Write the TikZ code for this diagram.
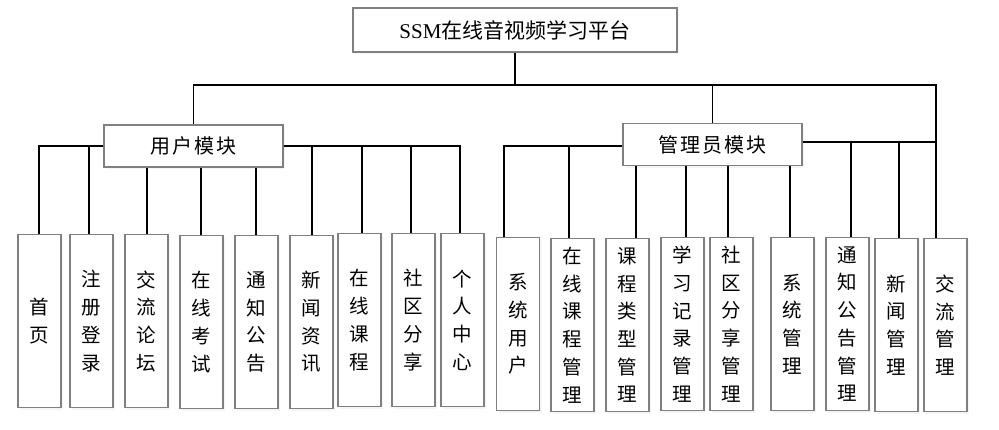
\documentclass[tikz,border=0pt]{standalone}
\usepackage{fontspec}
\setmainfont{Liberation Serif}
\newfontfamily\cjk{Noto Sans CJK SC}
\newfontfamily\cjkwide[LetterSpace=10]{Noto Sans CJK SC}
\usetikzlibrary{shadows}
\tikzset{
  box/.style = {draw=black!50, line width=1.1pt, fill=white, inner sep=0pt,
    drop shadow={shadow xshift=2pt, shadow yshift=-2pt, fill=black!8}},
  root/.style = {box, minimum width=324pt, minimum height=44pt,
    font=\fontsize{21pt}{25pt}\selectfont},
  mod/.style = {box, minimum width=179pt, minimum height=42pt,
    font=\cjkwide\fontsize{20pt}{24pt}\selectfont},
  leaf/.style = {box, anchor=north, minimum width=43pt, minimum height=173pt,
    align=center, font=\cjk\fontsize{19.5pt}{27.7pt}\selectfont},
  link/.style = {draw=black, line width=1.1pt}
}
\begin{document}
\begin{tikzpicture}[x=1pt, y=-1pt]
\useasboundingbox (0,0) rectangle (999,429);
% root and modules
\node [root] (top) at (515,30) {SSM{\cjk 在线音视频学习平台}};
\node [mod] (user) at (193.5,146) {用户模块};
\node [mod] (admin) at (712.5,144.5) {管理员模块};
\coordinate (hub) at (515,85);
% user leaves
\node [leaf] (u1) at (39.5,234) {首\\页};
\node [leaf] (u2) at (91.5,234) {注\\册\\登\\录};
\node [leaf] (u3) at (146.5,234) {交\\流\\论\\坛};
\node [leaf] (u4) at (201.5,235) {在\\线\\考\\试};
\node [leaf] (u5) at (256.5,235) {通\\知\\公\\告};
\node [leaf] (u6) at (311.5,235) {新\\闻\\资\\讯};
\node [leaf] (u7) at (359.5,233) {在\\线\\课\\程};
\node [leaf] (u8) at (413.5,233) {社\\区\\分\\享};
\node [leaf] (u9) at (462.5,233) {个\\人\\中\\心};
% admin leaves
\node [leaf] (a1) at (518,237) {系\\统\\用\\户};
\node [leaf] (a2) at (572.5,238) {在\\线\\课\\程\\管\\理};
\node [leaf] (a3) at (627.5,238) {课\\程\\类\\型\\管\\理};
\node [leaf] (a4) at (682.5,237) {学\\习\\记\\录\\管\\理};
\node [leaf] (a5) at (731.5,237) {社\\区\\分\\享\\管\\理};
\node [leaf] (a6) at (792.5,237) {系\\统\\管\\理};
\node [leaf] (a7) at (847.5,237) {通\\知\\公\\告\\管\\理};
\node [leaf] (a8) at (896.5,238) {新\\闻\\管\\理};
\node [leaf] (a9) at (945.5,238) {交\\流\\管\\理};
% upper links
\draw [link] (top.south) -- (hub);
\draw [link] (user.north) |- (hub) -| ([xshift=-9.5pt]a9.north);
\draw [link] (admin.north) -- (admin.north |- hub);
% user links
\draw [link] (user.west) -| ([xshift=-0.5pt]u1.north);
\draw [link] (user.west) -| ([xshift=-2.5pt]u2.north);
\draw [link] ([xshift=0.5pt]u3.north) -- ([xshift=0.5pt]u3.north |- user.south);
\draw [link] ([xshift=-0.5pt]u4.north) -- ([xshift=-0.5pt]u4.north |- user.south);
\draw [link] ([xshift=-0.5pt]u5.north) -- ([xshift=-0.5pt]u5.north |- user.south);
\draw [link] (user.east) -| ([xshift=0.5pt]u6.north);
\draw [link] (user.east) -| ([xshift=2.5pt]u7.north);
\draw [link] (user.east) -| ([xshift=-2.5pt]u8.north);
\draw [link] (user.east) -| ([xshift=-2.5pt]u9.north);
% admin links
\draw [link] ([yshift=-1.5pt]admin.west) -| ([xshift=-14pt]a1.north);
\draw [link] ([yshift=-1.5pt]admin.west) -| ([xshift=-3.5pt]a2.north);
\draw [link] ([xshift=8.5pt]a3.north) -- ([xshift=8.5pt]a3.north |- admin.south);
\draw [link] ([xshift=3.5pt]a4.north) -- ([xshift=3.5pt]a4.north |- admin.south);
\draw [link] ([xshift=-3.5pt]a5.north) -- ([xshift=-3.5pt]a5.north |- admin.south);
\draw [link] ([xshift=-2.5pt]a6.north) -- ([xshift=-2.5pt]a6.north |- admin.south);
\draw [link] ([yshift=2.5pt]admin.east) -| ([xshift=3.5pt]a7.north);
\draw [link] ([yshift=2.5pt]admin.east) -| ([xshift=2.5pt]a8.north);
\draw [link] ([yshift=2.5pt]admin.east) -| ([xshift=-9.5pt]a9.north);
\end{tikzpicture}
\end{document}
